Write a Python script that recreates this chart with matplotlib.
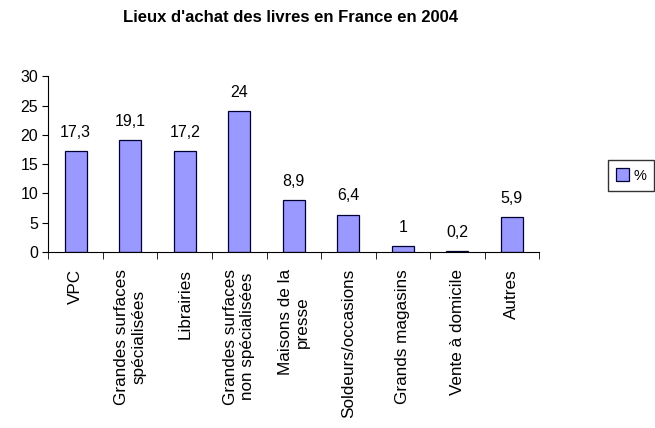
import numpy as np
import matplotlib.pyplot as plt

categories = ["VPC", "Grandes surfaces\nspécialisées", "Librairies",
              "Grandes surfaces\nnon spécialisées", "Maisons de la\npresse",
              "Soldeurs/occasions", "Grands magasins", "Vente à domicile", "Autres"]
values = [17.3, 19.1, 17.2, 24, 8.9, 6.4, 1, 0.2, 5.9]
value_labels = ["17,3", "19,1", "17,2", "24", "8,9", "6,4", "1", "0,2", "5,9"]

plt.rcParams['font.family'] = ['Liberation Sans', 'DejaVu Sans']

fig = plt.figure(figsize=(6.55, 4.28), dpi=100)
ax = fig.add_axes([0.074, 0.411, 0.749, 0.411])

x = np.arange(len(categories))
bars = ax.bar(x, values, width=0.4, color="#9999ff", edgecolor="#000033",
              linewidth=0.9, label="%")

for xi, v, lab in zip(x, values, value_labels):
    ax.text(xi, v + 1.9, lab, ha="center", va="bottom", fontsize=11.5)

ax.set_xlim(-0.5, len(categories) - 0.5)
ax.set_ylim(0, 30)
ax.set_yticks(range(0, 31, 5))
ax.set_xticks(x)
ax.set_xticklabels(categories, rotation=90, fontsize=12.3, ha="center", va="top",
                   multialignment="center", linespacing=1.15)
ax.set_xticks(np.arange(len(categories) + 1) - 0.5, minor=True)
ax.tick_params(axis="x", which="major", length=0, pad=12)
ax.tick_params(axis="x", which="minor", length=5, direction="out")
ax.tick_params(axis="y", labelsize=11.5, length=4)
ax.spines["top"].set_visible(False)
ax.spines["right"].set_visible(False)

fig.text(0.443, 0.958, "Lieux d'achat des livres en France en 2004",
         ha="center", va="center", fontsize=12, fontweight="bold")

fig.legend(loc="center", bbox_to_anchor=(0.963, 0.59), fontsize=10.5,
           frameon=True, fancybox=False, edgecolor="black",
           handlelength=0.9, handleheight=0.9, handletextpad=0.3,
           borderpad=0.55)

fig.savefig("out.png", dpi=100)
